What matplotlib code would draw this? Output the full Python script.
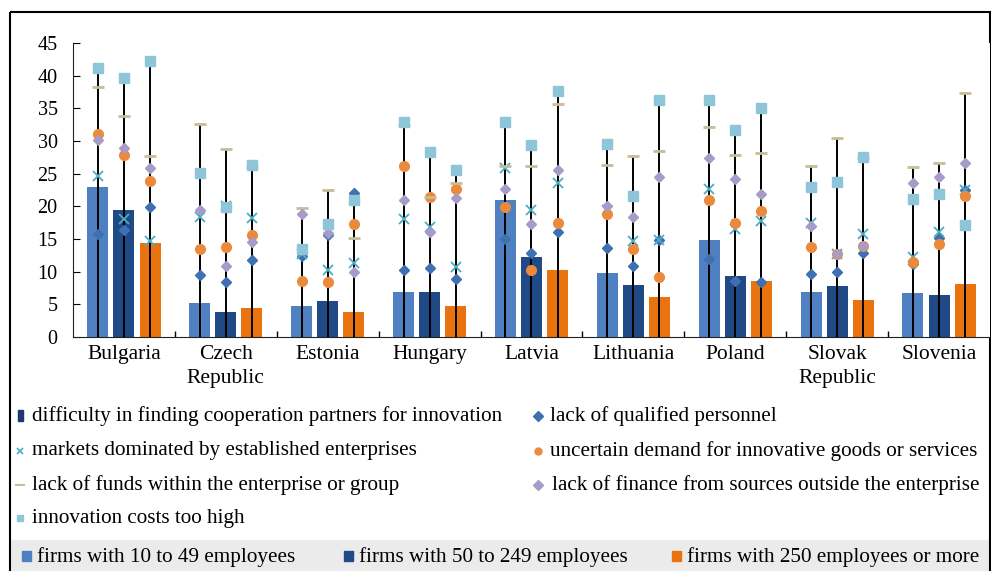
import numpy as np
import matplotlib
matplotlib.use("Agg")
import matplotlib.pyplot as plt
from matplotlib.patches import Rectangle

plt.rcParams['font.family'] = ['Liberation Serif', 'DejaVu Serif']

countries = ["Bulgaria", "Czech\nRepublic", "Estonia", "Hungary", "Latvia",
             "Lithuania", "Poland", "Slovak\nRepublic", "Slovenia"]
sizes = ["firms with 10 to 49 employees", "firms with 50 to 249 employees",
         "firms with 250 employees or more"]

# bars: share of firms per size class (rows = countries, cols = size classes)
bars = [[23.0, 19.5, 14.4], [5.2, 3.8, 4.5], [4.8, 5.5, 3.8], [6.9, 6.9, 4.7],
        [20.9, 12.3, 10.2], [9.8, 7.9, 6.1], [14.9, 9.4, 8.6], [6.9, 7.8, 5.7],
        [6.7, 6.5, 8.1]]

qualified = [[15.7, 16.4, 19.9], [9.5, 8.4, 11.8], [12.4, 15.6, 22.0], [10.2, 10.6, 8.9],
             [15.0, 12.8, 16.1], [13.6, 10.8, 14.8], [12.0, 8.5, 8.4], [9.6, 10.0, 12.9],
             [11.2, 15.1, 22.5]]
markets = [[24.7, 18.1, 14.7], [18.3, 20.1, 18.2], [12.7, 10.2, 11.4], [18.0, 16.9, 10.7],
           [25.9, 19.5, 23.6], [19.5, 14.7, 14.8], [22.6, 16.5, 17.7], [17.4, 12.7, 15.8],
           [12.3, 16.1, 22.5]]
demand = [[31.0, 27.9, 23.9], [13.5, 13.7, 15.6], [8.6, 8.4, 17.3], [26.1, 21.4, 22.6],
          [19.9, 10.3, 17.5], [18.8, 13.4, 9.2], [20.9, 17.4, 19.3], [13.7, 12.7, 14.0],
          [11.5, 14.2, 21.6]]
funds = [[38.3, 33.8, 27.7], [32.6, 28.7, 26.0], [19.8, 22.5, 15.2], [32.5, 21.4, 23.5],
         [26.2, 26.1, 35.6], [26.3, 27.7, 28.5], [32.1, 27.8, 28.2], [26.1, 30.4, 27.4],
         [26.0, 26.7, 37.3]]
finance = [[30.1, 29.0, 25.9], [19.4, 10.8, 14.5], [18.9, 15.9, 9.9], [20.9, 16.0, 21.2],
           [22.6, 17.3, 25.5], [20.1, 18.3, 24.5], [27.4, 24.2, 21.9], [17.0, 12.7, 14.0],
           [23.6, 24.5, 26.7]]
costs = [[41.2, 39.7, 42.3], [25.1, 19.9, 26.4], [13.4, 17.3, 20.9], [32.9, 28.3, 25.6],
         [32.9, 29.4, 37.7], [29.6, 21.6, 36.3], [36.3, 31.7, 35.0], [23.0, 23.8, 27.6],
         [21.1, 21.9, 17.1]]

barrier_labels = ["difficulty in finding cooperation partners for innovation",
                  "lack of qualified personnel",
                  "markets dominated by established enterprises",
                  "uncertain demand for innovative goods or services",
                  "lack of funds within the enterprise or group",
                  "lack of finance from sources outside the enterprise",
                  "innovation costs too high"]

bar_colors = ["#4f81c2", "#1f4a85", "#e8730f"]
c_diff = "#1f3a68"
c_qual = "#3f70b2"
c_mark = "#4bacc6"
c_dem = "#ea8a3c"
c_fund = "#c4bd97"
c_fin = "#a99bc8"
c_cost = "#8ec5d8"

W, H = 991, 571
fig = plt.figure(figsize=(W / 100, H / 100), dpi=100)
ax = fig.add_axes([73 / W, (H - 337) / H, (990 - 73) / W, (337 - 43) / H])

n = len(countries)
x = np.arange(n)
offs = [-0.256, 0.0, 0.256]
bars = np.array(bars)
series = [np.array(s) for s in (qualified, markets, demand, funds, finance, costs)]
top = np.max(np.stack(series), axis=0)

for j in range(3):
    xs = x + offs[j]
    ax.bar(xs, bars[:, j], width=0.206, color=bar_colors[j], zorder=2)
    ax.vlines(xs, 0, top[:, j], color="black", lw=1.4, zorder=3)
    ax.plot(xs, series[0][:, j], ls="none", marker="D", ms=5.5, color=c_qual, zorder=4)
    ax.plot(xs, series[1][:, j], ls="none", marker="x", ms=7, mew=1.3, color=c_mark, zorder=5)
    ax.plot(xs, series[2][:, j], ls="none", marker="o", ms=7, color=c_dem, zorder=6)
    ax.plot(xs, series[3][:, j], ls="none", marker="_", ms=8, mew=2, color=c_fund, zorder=7)
    ax.plot(xs, series[4][:, j], ls="none", marker="D", ms=5.5, color=c_fin, zorder=8)
    ax.plot(xs, series[5][:, j], ls="none", marker="s", ms=6.5, color=c_cost, zorder=9)

ax.set_xlim(-0.5, n - 0.5)
ax.set_ylim(0, 45)
ax.set_yticks(np.arange(0, 46, 5))
ax.set_xticks(x)
ax.set_xticklabels(countries, fontsize=15.5, linespacing=1.3)
ax.set_xticks(np.arange(0.5, n - 0.5, 1), minor=True)
ax.tick_params(axis="x", which="major", length=0, pad=6)
ax.tick_params(axis="x", which="minor", direction="in", length=4, width=1)
ax.tick_params(axis="y", direction="in", length=5, labelsize=14.5, pad=11)
for s in ("top", "right"):
    ax.spines[s].set_visible(False)
for s in ("left", "bottom"):
    ax.spines[s].set_color("#222222")

# legend area drawn in pixel coords
lax = fig.add_axes([0, 0, 1, 1], zorder=-1)
lax.set_xlim(0, W)
lax.set_ylim(H, 0)
lax.axis("off")
lax.add_patch(Rectangle((10, 540), 980, 40, color="#ebebeb", zorder=0))
lax.add_patch(Rectangle((10, 12), 980, 570, fill=False, ec="black", lw=1.5, zorder=5))

fs = 15.2
rows = [416, 451, 485, 518]
entries = [
    (0, 0, "s", c_diff), (0, 1, "D", c_qual),
    (1, 0, "x", c_mark), (1, 1, "o", c_dem),
    (2, 0, "_", c_fund), (2, 1, "D", c_fin),
    (3, 0, "s", c_cost),
]
col_x = [20, 538]
for k, (r, c, m, col) in enumerate(entries):
    yy = rows[r]
    xx = col_x[c]
    if k == 0:
        lax.add_patch(Rectangle((xx - 2.5, yy - 6), 5, 11, color=col))
    else:
        kw = dict(mew=1.2) if m == "x" else {}
        if m == "_":
            kw = dict(mew=1.5)
        lax.plot(xx, yy, marker=m, ms=5 if m != "_" else 7, color=col, ls="none", **kw)
    tx = xx + 12 if k != 5 else xx + 14
    lax.text(tx, yy, barrier_labels[k], fontsize=fs, va="center", ha="left")

for xm, lab, col in zip([26, 348, 676], sizes, bar_colors):
    lax.add_patch(Rectangle((xm - 4.5, 551), 9, 10, color=col))
    lax.text(xm + 11, 557, lab, fontsize=fs, va="center", ha="left")

fig.savefig("out.png", dpi=100)
